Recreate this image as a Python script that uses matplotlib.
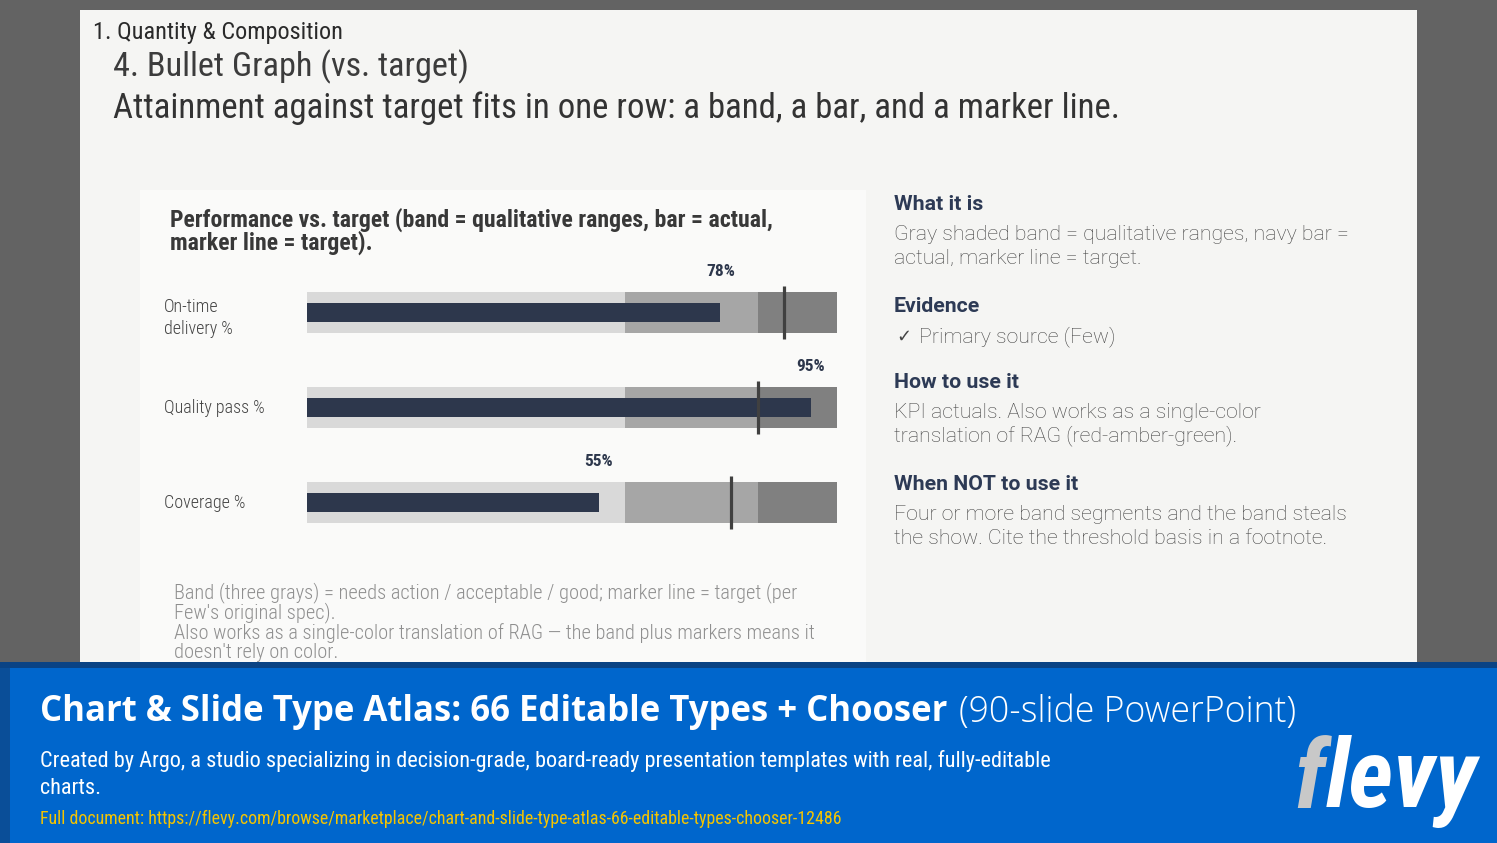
import matplotlib
matplotlib.use("Agg")
import matplotlib.pyplot as plt
import matplotlib.font_manager as fm
from matplotlib.patches import Rectangle
from matplotlib import transforms

# ---------------- data ----------------
categories = ["On-time\ndelivery %", "Quality pass %", "Coverage %"]
actual = [78, 95, 55]
target = [90, 85, 80]
band_edges = [60, 85, 100]          # needs action / acceptable / good
band_colors = ["#d9d9d9", "#a6a6a6", "#808080"]

header_section = "1. Quantity & Composition"
slide_title = "4. Bullet Graph (vs. target)"
slide_subtitle = "Attainment against target fits in one row: a band, a bar, and a marker line."
chart_title = ["Performance vs. target (band = qualitative ranges, bar = actual,",
               "marker line = target)."]
footnote = ["Band (three grays) = needs action / acceptable / good; marker line = target (per",
            "Few's original spec).",
            "Also works as a single-color translation of RAG \u2014 the band plus markers means it",
            "doesn't rely on color."]
side_heads = ["What it is", "Evidence", "How to use it", "When NOT to use it"]
side_bodies = [["Gray shaded band = qualitative ranges, navy bar =", "actual, marker line = target."],
               ["Primary source (Few)"],
               ["KPI actuals. Also works as a single-color", "translation of RAG (red-amber-green)."],
               ["Four or more band segments and the band steals",
                "the show. Cite the threshold basis in a footnote."]]
banner_title_bold = "Chart & Slide Type Atlas: 66 Editable Types + Chooser"
banner_title_light = "(90-slide PowerPoint)"
banner_sub = ["Created by Argo, a studio specializing in decision-grade, board-ready presentation templates with real, fully-editable",
              "charts."]
banner_url = "Full document: https://flevy.com/browse/marketplace/chart-and-slide-type-atlas-66-editable-types-chooser-12486"
logo_first, logo_rest = "f", "levy"

# ---------------- fonts ----------------
avail = {f.name for f in fm.fontManager.ttflist}
COND = next((f for f in ["Roboto Condensed", "Liberation Sans Narrow", "Open Sans Condensed"]
             if f in avail), "Liberation Sans")
SIDE = "Roboto" if "Roboto" in avail else "DejaVu Sans"
BAN = "Open Sans" if "Open Sans" in avail else "DejaVu Sans"

W, H = 1497, 843
fig = plt.figure(figsize=(W / 100, H / 100), dpi=100)
renderer = fig.canvas.get_renderer()

bg = fig.add_axes([0, 0, 1, 1])
bg.set_xlim(0, W)
bg.set_ylim(H, 0)
bg.axis("off")


def rect(x0, y0, x1, y1, color, z=0):
    bg.add_patch(Rectangle((x0, y0), x1 - x0, y1 - y0, facecolor=color, edgecolor="none", zorder=z))


def size_for(s, width, **kw):
    t = bg.text(0, 0, s, fontsize=10, **kw)
    w = t.get_window_extent(renderer).width
    t.remove()
    return 10 * width / w


def width_of(s, **kw):
    t = bg.text(0, 0, s, **kw)
    w = t.get_window_extent(renderer).width
    t.remove()
    return w


def txt(x, y, s, **kw):
    return bg.text(x, y, s, va="center", ha=kw.pop("ha", "left"), **kw)


# backgrounds
rect(0, 0, W, H, "#636363")
rect(80, 10, 1417, 663, "#f5f5f3", 1)
rect(140, 190, 866, 663, "#fafaf9", 2)
rect(0, 662, W, 668, "#0a4384", 3)
rect(0, 668, W, H, "#0066cc", 3)
rect(0, 668, 10, H, "#0a4e98", 4)

# header texts
fs = size_for(header_section, 248, family=COND)
txt(93, 33, header_section, fontsize=fs, family=COND, color="#2a2a2a", zorder=5)
fs = size_for(slide_title, 355, family=COND)
txt(113, 67, slide_title, fontsize=fs, family=COND, color="#3c3c3c", zorder=5)
fs = size_for(slide_subtitle, 997, family=COND)
txt(113, 108, slide_subtitle, fontsize=fs, family=COND, color="#333333", zorder=5)

# chart title
fs = size_for(chart_title[0], 601, family=COND, fontweight="bold")
for i, line in enumerate(chart_title):
    txt(170, 220 + 23 * i, line, fontsize=fs, family=COND, fontweight="bold", color="#383838", zorder=5)

# footnote
fs = size_for(footnote[0], 620, family=COND, fontweight="light")
for i, line in enumerate(footnote):
    txt(174, 593 + 20 * i, line, fontsize=fs, family=COND, fontweight="light", color="#8f8f8f", zorder=5)

# right side panel
head_y = [205, 307, 383, 485]
body_y = [[235, 258], [337], [413, 436], [515, 538]]
fs_h = size_for(side_heads[3], 184, family=SIDE, fontweight="bold")
fs_b = size_for(side_bodies[0][0], 455, family=SIDE, fontweight="light")
for h, hy, lines, ys in zip(side_heads, head_y, side_bodies, body_y):
    txt(894, hy, h, fontsize=fs_h, family=SIDE, fontweight="bold", color="#2d3a55", zorder=5)
    for line, ly in zip(lines, ys):
        if h == "Evidence":
            txt(896, ly, "\u2713", fontsize=fs_b * 0.85, family=["DejaVu Sans"], color="#444444", zorder=5)
            txt(919, ly, line, fontsize=fs_b, family=SIDE, fontweight="light", color="#444444", zorder=5)
        else:
            txt(894, ly, line, fontsize=fs_b, family=SIDE, fontweight="light", color="#444444", zorder=5)

# banner
fs = size_for(banner_title_bold, 910, family=BAN, fontweight="bold")
txt(40, 712, banner_title_bold, fontsize=fs, family=BAN, fontweight="bold", color="white", zorder=6)
fs2 = size_for(banner_title_light, 336, family=BAN, fontweight="light")
txt(959, 712, banner_title_light, fontsize=fs2, family=BAN, fontweight="light", color="white", zorder=6)
fs = size_for(banner_sub[0], 1006, family=COND)
txt(40, 761, banner_sub[0], fontsize=fs, family=COND, color="white", zorder=6)
txt(40, 789, banner_sub[1], fontsize=fs, family=COND, color="white", zorder=6)
fs = size_for(banner_url, 797, family=COND)
txt(40, 819, banner_url, fontsize=fs, family=COND, color="#f5c400", zorder=6)

# flevy logo: gray "f" then white "levy"
logo_kw = dict(family=COND, fontweight="bold", fontstyle="italic")
fs = size_for(logo_first + logo_rest, 182, **logo_kw)
wf = width_of(logo_first, fontsize=fs, **logo_kw)
txt(1294, 782, logo_first, fontsize=fs, color="#c8c8c8", zorder=7, **logo_kw)
txt(1294 + wf + 1, 782, logo_rest, fontsize=fs, color="white", zorder=6, **logo_kw)

# ---------------- bullet chart ----------------
ax_left, ax_right, ax_top, ax_bot = 307, 837, 250, 550
ax = fig.add_axes([ax_left / W, 1 - ax_bot / H, (ax_right - ax_left) / W, (ax_bot - ax_top) / H])
ax.set_xlim(0, 100)
ax.set_ylim(2.5, -0.658)
ax.axis("off")
ax.patch.set_alpha(0)

band_h, bar_h, mark_h = 0.432, 0.2, 0.56
for i, (a, t) in enumerate(zip(actual, target)):
    left = 0
    for edge, c in zip(band_edges, band_colors):
        ax.barh(i, edge - left, left=left, height=band_h, color=c, zorder=1)
        left = edge
    ax.barh(i, a, left=0, height=bar_h, color="#2d374c", zorder=2)
    ax.plot([t, t], [i - mark_h / 2, i + mark_h / 2], color="#404040", lw=2.3,
            solid_capstyle="butt", zorder=3)
    ax.text(a, i - 0.43, f"{a}%", ha="center", va="center", family=COND, fontweight="bold",
            fontsize=12.5, color="#2d374c", zorder=4)

lab_tr = transforms.blended_transform_factory(fig.transFigure, ax.transData)
for i, c in enumerate(categories):
    ax.text(164 / W, i + (0.06 if "\n" in c else 0), c, transform=lab_tr, ha="left", va="center",
            family=COND, fontweight="light", fontsize=13, color="#444444", linespacing=1.3,
            clip_on=False)

fig.savefig("out.png", dpi=100)
